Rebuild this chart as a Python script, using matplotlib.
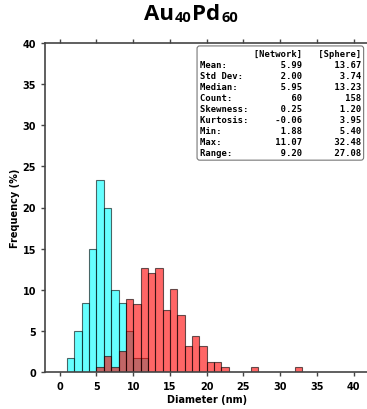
import numpy as np
import matplotlib.pyplot as plt

# histogram counts per 1 nm bin (left edge given)
network_left = [1, 2, 3, 4, 5, 6, 7, 8, 9, 10, 11]
network_counts = [1, 3, 5, 9, 14, 12, 6, 5, 3, 1, 1]

sphere_left = [5, 6, 7, 8, 9, 10, 11, 12, 13, 14, 15, 16, 17, 18, 19, 20, 21, 22, 26, 32]
sphere_counts = [1, 3, 1, 4, 14, 13, 20, 19, 20, 12, 16, 11, 5, 7, 5, 2, 2, 1, 1, 1]

stat_names = ['Mean:', 'Std Dev:', 'Median:', 'Count:', 'Skewness:', 'Kurtosis:', 'Min:', 'Max:', 'Range:']
network_stats = ['5.99', '2.00', '5.95', '60', '0.25', '-0.06', '1.88', '11.07', '9.20']
sphere_stats = ['13.67', '3.74', '13.23', '158', '1.20', '3.95', '5.40', '32.48', '27.08']

title_parts = [('Au', False), ('40', True), ('Pd', False), ('60', True)]

net_pct = np.array(network_counts) / sum(network_counts) * 100
sph_pct = np.array(sphere_counts) / sum(sphere_counts) * 100

fig = plt.figure(figsize=(3.67, 4.10), dpi=100)
ax = fig.add_axes([45 / 367, 37 / 410, 323.4 / 367, 329 / 410])

ax.bar(network_left, net_pct, width=1, align='edge', color=(0, 1, 1, 0.6),
       edgecolor=(0, 0, 0, 0.6), linewidth=0.8)
ax.bar(sphere_left, sph_pct, width=1, align='edge', color=(1, 0, 0, 0.6),
       edgecolor=(0, 0, 0, 0.6), linewidth=0.8)

ax.set_xlim(-2, 42)
ax.set_ylim(0, 40)
ax.set_xticks(range(0, 41, 5))
ax.set_yticks(range(0, 41, 5))
ax.tick_params(top=True, labelsize=7, colors='#444444', labelcolor='black',
               length=3, width=1)
for lab in ax.get_xticklabels() + ax.get_yticklabels():
    lab.set_fontweight('bold')
for s in ['left', 'bottom', 'top']:
    ax.spines[s].set_color('#444444')
    ax.spines[s].set_linewidth(1.2)
ax.spines['right'].set_visible(False)

ax.set_xlabel('Diameter (nm)', fontsize=7, fontweight='bold', labelpad=2)
ax.set_ylabel('Frequency (%)', fontsize=7, fontweight='bold', labelpad=2)

lines = ['{:<10}{:>9}{:>11}'.format('', '[Network]', '[Sphere]')]
for n, a, b in zip(stat_names, network_stats, sphere_stats):
    lines.append('{:<10}{:>9}{:>11}'.format(n, a, b))
ax.text(0.977, 0.983, '\n'.join(lines), transform=ax.transAxes, ha='right', va='top',
        family='DejaVu Sans Mono', fontsize=6.4, fontweight='bold', linespacing=1.3,
        bbox=dict(boxstyle='round,pad=0.3', facecolor='white', edgecolor='#777777', linewidth=0.8))

# title built from pieces so the subscripts stay in Open Sans
renderer = fig.canvas.get_renderer()
x_px = 144
base_px = 410 - 20
for txt, sub in title_parts:
    size = 10.5 if sub else 16
    y = base_px - (1.5 if sub else 0)
    t = fig.text(x_px / 367, y / 410, txt, fontsize=size, fontweight='bold',
                 family='Open Sans', ha='left', va='baseline')
    x_px = t.get_window_extent(renderer).x1 + 0.8

fig.savefig('out.png', dpi=100)
